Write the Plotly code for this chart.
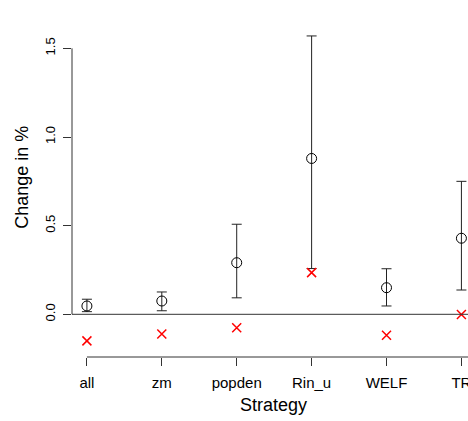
import plotly.graph_objects as go

categories = ["all", "zm", "popden", "Rin_u", "WELF", "TR"]
mean_change = [0.047, 0.075, 0.291, 0.879, 0.150, 0.429]
lower_ci = [0.015, 0.020, 0.093, 0.258, 0.047, 0.137]
upper_ci = [0.085, 0.126, 0.508, 1.570, 0.257, 0.750]
red_change = [-0.150, -0.111, -0.076, 0.235, -0.118, -0.001]
y_ticks = [0.0, 0.5, 1.0, 1.5]
y_ticklabels = ["0.0", "0.5", "1.0", "1.5"]

xs = list(range(len(categories)))
FONT = "Liberation Sans, Arial, Helvetica, sans-serif"
LINE = "#333333"

fig = go.Figure()
fig.add_trace(go.Scatter(
    x=xs, y=mean_change, mode="markers",
    marker=dict(symbol="circle-open", size=10, color="black", line=dict(width=1, color="black")),
    error_y=dict(type="data", symmetric=False,
                 array=[u - m for u, m in zip(upper_ci, mean_change)],
                 arrayminus=[m - l for m, l in zip(mean_change, lower_ci)],
                 thickness=1, width=5, color="#222222"),
    showlegend=False, cliponaxis=False,
))
fig.add_trace(go.Scatter(
    x=xs, y=red_change, mode="markers",
    marker=dict(symbol="x-thin-open", size=9, color="red", line=dict(width=1.5, color="red")),
    showlegend=False, cliponaxis=False,
))

# horizontal reference line at 0
fig.add_shape(type="line", xref="paper", x0=0, x1=1, yref="y", y0=0, y1=0,
              line=dict(color=LINE, width=1))
# R-style y axis line between first and last tick
fig.add_shape(type="line", xref="paper", x0=0, x1=0, yref="y", y0=y_ticks[0], y1=y_ticks[-1],
              line=dict(color=LINE, width=1))
# R-style x axis line from first tick onwards
fig.add_shape(type="line", xref="x", x0=xs[0], x1=xs[-1] + 1, yref="paper", y0=0, y1=0,
              line=dict(color=LINE, width=1))

fig.update_layout(
    width=468, height=421, autosize=False,
    margin=dict(l=72, r=0, t=0, b=64, pad=0, autoexpand=False),
    plot_bgcolor="white", paper_bgcolor="white",
    font=dict(family=FONT, color="black"),
    xaxis=dict(range=[-0.199, 5.088], showgrid=False, zeroline=False, showline=False,
               automargin=False,
               tickmode="array", tickvals=xs, ticktext=categories,
               ticks="outside", ticklen=8, tickwidth=1, tickcolor=LINE,
               ticklabelstandoff=4, ticklabeloverflow="allow",
               tickfont=dict(size=15, family=FONT, color="black")),
    yaxis=dict(range=[-0.2408, 1.7727], showgrid=False, zeroline=False, showline=False,
               automargin=False,
               tickmode="array", tickvals=y_ticks, ticktext=y_ticklabels, tickangle=-90,
               ticks="outside", ticklen=8, tickwidth=1, tickcolor=LINE,
               ticklabelstandoff=3,
               tickfont=dict(size=13, family=FONT, color="black")),
    annotations=[
        dict(text="Strategy", xref="paper", yref="paper", x=0.510, y=-0.1345,
             xanchor="center", yanchor="middle", showarrow=False,
             font=dict(size=18, family=FONT, color="black")),
        dict(text="Change in %", xref="paper", yref="paper", x=-0.1263, y=0.505,
             xanchor="center", yanchor="middle", textangle=-90, showarrow=False,
             font=dict(size=18, family=FONT, color="black")),
    ],
)

fig.write_html(
    "out.html",
    config={"displayModeBar": False},
    post_script="document.documentElement.style.margin='0';document.body.style.margin='0';"
                "document.body.style.overflow='hidden';document.documentElement.style.overflow='hidden';",
)
